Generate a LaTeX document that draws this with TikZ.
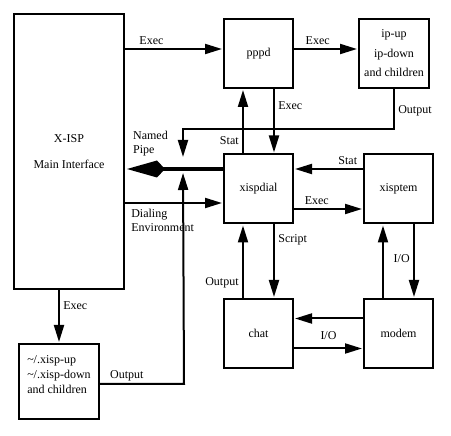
\documentclass[tikz,border=0pt]{standalone}
\usepackage{fontspec}
\setmainfont{Liberation Serif}
\usetikzlibrary{arrows.meta}

\begin{document}
\begin{tikzpicture}[x=1pt,y=-1pt]
\tikzstyle{every node}=[font=\fontsize{12}{14}\selectfont]
\tikzstyle{box}=[draw,line width=2pt,minimum width=69pt,minimum height=69pt,inner sep=2pt]
\tikzstyle{flow}=[line width=2pt,-{Triangle[length=17pt,width=10pt]},shorten >=1pt]
\tikzstyle{pipe}=[line width=4pt,-{Kite[length=38pt,width=17pt,inset=8pt]},shorten >=2pt]
\useasboundingbox (0,0) rectangle (451,436);

\node[box,minimum width=110pt,minimum height=275pt,align=center] (xisp) at (69,151.5) {X-ISP\\[12pt]Main Interface};
\node[box] (pppd) at (258.5,53.5) {pppd};
\node[box,minimum width=70pt,align=center] (ipup) at (394,53.5) {ip-up\\[5.5pt]ip-down\\[5.5pt]and children};
\node[box] (dial) at (258.5,189) {xispdial};
\node[box] (tem) at (398.5,189) {xisptem};
\node[box] (chat) at (258.5,333.5) {chat};
\node[box] (modem) at (398.5,333.5) {modem};
\node[box,minimum width=80pt,minimum height=75pt,align=left,font=\fontsize{12}{15}\selectfont] (xup) at (59,381.5)
  {\textasciitilde/.xisp-up\\\textasciitilde/.xisp-down\\and children\\[-2pt]\mbox{}};
\coordinate (pj) at (183,169);

% exec from the interface
\draw[flow] ([yshift=4.5pt]pppd.west -| xisp.east) -- node[pos=0.27,above] {Exec} ([yshift=4.5pt]pppd.west);
\draw[flow] ([yshift=4.5pt]pppd.east) -- node[pos=0.37,above] {Exec} ([yshift=4.5pt]ipup.west);
\draw[flow] (xisp.south -| xup.north) -- node[pos=0.3,right] {Exec} (xup.north);

% pppd and xispdial
\draw[flow] ([xshift=15.5pt]pppd.south) -- node[pos=0.26,right] {Exec} ([xshift=15.5pt]dial.north);
\draw[flow] ([xshift=-15.5pt]dial.north) -- node[pos=0.2,left] {Stat} ([xshift=-15.5pt]pppd.south);

% named pipe
\draw[pipe] ([yshift=20pt]dial.west) -- node[pos=0.74,above=8pt,align=left] {Named\\Pipe} ([yshift=20pt]dial.west -| xisp.east);
\draw[flow,shorten >=12pt] (ipup.south) -- node[pos=0.55,right] {Output} ++(0,40) -| (pj);
\draw[flow,shorten >=4pt] ([yshift=-2.5pt]xup.east) -- node[pos=0.32,above=-1pt] {Output} ++(84,0) -- (pj);
\draw[flow] ([yshift=-14pt]dial.west -| xisp.east) node[below right=2pt,align=left] {Dialing\\Environment} -- ([yshift=-14pt]dial.west);

% xispdial and xisptem
\draw[flow] ([yshift=20pt]tem.west) -- node[pos=0.22,above] {Stat} ([yshift=20pt]dial.east);
\draw[flow] ([yshift=-20pt]dial.east) -- node[pos=0.33,above] {Exec} ([yshift=-20pt]tem.west);

% xispdial and chat
\draw[flow] ([xshift=15.5pt]dial.south) -- node[pos=0.21,right] {Script} ([xshift=15.5pt]chat.north);
\draw[flow] ([xshift=-15.5pt]chat.north) -- node[pos=0.2,left] {Output} ([xshift=-15.5pt]dial.south);

% modem
\draw[flow] ([xshift=15.5pt]tem.south) -- node[pos=0.47,left] {I/O} ([xshift=15.5pt]modem.north);
\draw[flow] ([xshift=-15.5pt]modem.north) -- ([xshift=-15.5pt]tem.south);
\draw[flow] ([yshift=15pt]modem.west) -- ([yshift=15pt]chat.east);
\draw[flow] ([yshift=-15pt]chat.east) -- node[pos=0.5,above=5pt] {I/O} ([yshift=-15pt]modem.west);
\end{tikzpicture}
\end{document}
